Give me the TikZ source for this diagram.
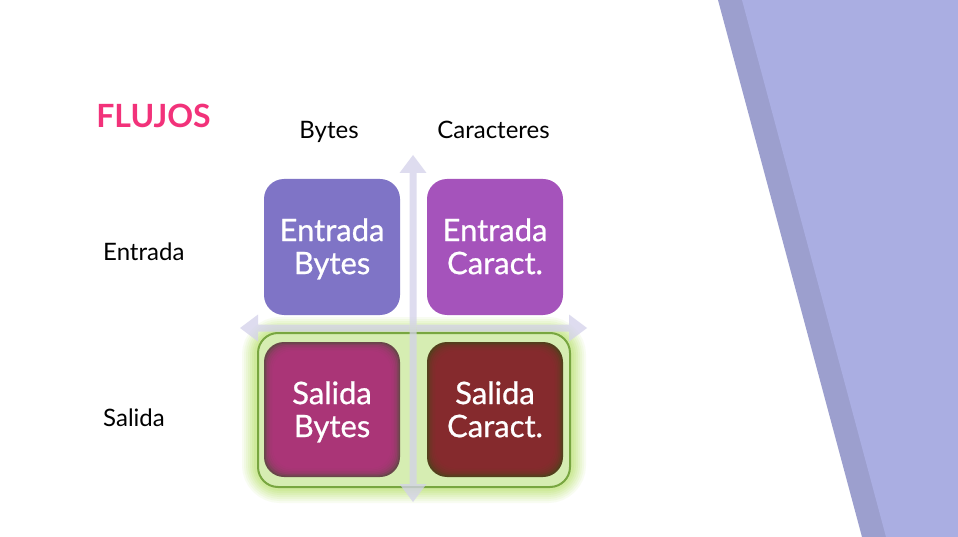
\documentclass[tikz,border=0pt]{standalone}
\usepackage{fontspec}
\setmainfont{Lato}
\newfontfamily\boxfont{Lato}[BoldFont=*, BoldFeatures={FakeBold=0.7}]
\definecolor{banddark}{HTML}{9C9FCE}
\definecolor{bandlight}{HTML}{AAAEE2}
\definecolor{ebytes}{HTML}{7F74C6}
\definecolor{ecar}{HTML}{A553BB}
\definecolor{sbytes}{HTML}{B1357C}
\definecolor{scar}{HTML}{8B2A2F}
\definecolor{axis}{HTML}{D3D1EA}
\definecolor{glowc}{HTML}{C2E67F}
\definecolor{greenfill}{HTML}{D6EDB2}
\definecolor{greenline}{HTML}{78A640}
\definecolor{titlepink}{HTML}{F2327A}
\begin{document}
\begin{tikzpicture}[x=1pt,y=-1pt,
  box/.style={rounded corners=20pt, minimum width=136pt, minimum height=136pt, inner sep=0pt},
  boxtext/.style={inner sep=0pt, text=white, font=\boxfont\bfseries\fontsize{31}{33}\selectfont, align=center},
  lbl/.style={font=\fontsize{24}{26}\selectfont, text=black, inner sep=0pt},
  axisfill/.style={fill=axis, fill opacity=0.75}]
\useasboundingbox (0,0) rectangle (958,537);
\fill[white] (0,0) rectangle (958,537);
% right bands
\fill[banddark] (718,0) -- (958,0) -- (958,537) -- (862,537) -- cycle;
\fill[bandlight] (742,0) -- (958,0) -- (958,537) -- (886,537) -- cycle;
% title and labels
\node[font=\bfseries\fontsize{32}{34}\selectfont, text=titlepink, inner sep=0pt, anchor=base] (title) at (153.5,128) {FLUJOS};
\node[lbl, anchor=base] (colb) at (329,138.5) {Bytes};
\node[lbl, anchor=base] (colc) at (493.5,138.5) {Caracteres};
\node[lbl, anchor=base west] (rowe) at (103,260.5) {Entrada};
\node[lbl, anchor=base west] (rows) at (103,426.5) {Salida};
% green glow group
\foreach \w/\o in {32/0.1, 28/0.12, 24/0.14, 20/0.16, 16/0.2, 12/0.24, 8/0.3}
  \draw[glowc, line width=\w pt, opacity=\o, rounded corners=22pt] (258,333) rectangle (570,487);
\draw[fill=greenfill, draw=greenline, line width=2pt, rounded corners=20pt] (258,333) rectangle (570,487);
% axes
\fill[axisfill] (409.5,173) -- (399.5,173) -- (413,155) -- (426.5,173) -- (416.5,173)
  -- (416.5,484) -- (426.5,484) -- (413,502) -- (399.5,484) -- (409.5,484) -- cycle;
\fill[axisfill] (258,324.5) -- (258,314.5) -- (240,328) -- (258,341.5) -- (258,331.5)
  -- (409.5,331.5) -- (409.5,324.5) -- cycle;
\fill[axisfill] (416.5,324.5) -- (569,324.5) -- (569,314.5) -- (587,328) -- (569,341.5)
  -- (569,331.5) -- (416.5,331.5) -- cycle;
% boxes
\node[box, fill=ebytes] (eb) at (332,247) {};
\node[box, fill=ecar] (ec) at (495,247) {};
% salida boxes with inner shadow
\fill[sbytes!70!black!85!green, rounded corners=20pt] (264,342) rectangle (400,477);
\fill[scar!70!black!85!green, rounded corners=20pt] (427,342) rectangle (563,477);
\foreach \k in {1.5,3,4.5,6,7.5,9} {
  \fill[sbytes, opacity=0.35, rounded corners=20pt] (264+\k,342+\k) rectangle (400-\k,477-\k);
  \fill[scar, opacity=0.35, rounded corners=20pt] (427+\k,342+\k) rectangle (563-\k,477-\k);
}
\node[box, minimum height=135pt] (sb) at (332,409.5) {};
\node[box, minimum height=135pt] (sc) at (495,409.5) {};
% box texts
\node[boxtext] (ebt) at ([yshift=-4pt]eb.center) {Entrada\strut\\Bytes\strut};
\node[boxtext] (ect) at ([yshift=-4pt]ec.center) {Entrada\strut\\Caract.\strut};
\node[boxtext] (sbt) at ([yshift=-4.5pt]sb.center) {Salida\strut\\Bytes\strut};
\node[boxtext] (sct) at ([yshift=-4.5pt]sc.center) {Salida\strut\\Caract.\strut};
\end{tikzpicture}
\end{document}
